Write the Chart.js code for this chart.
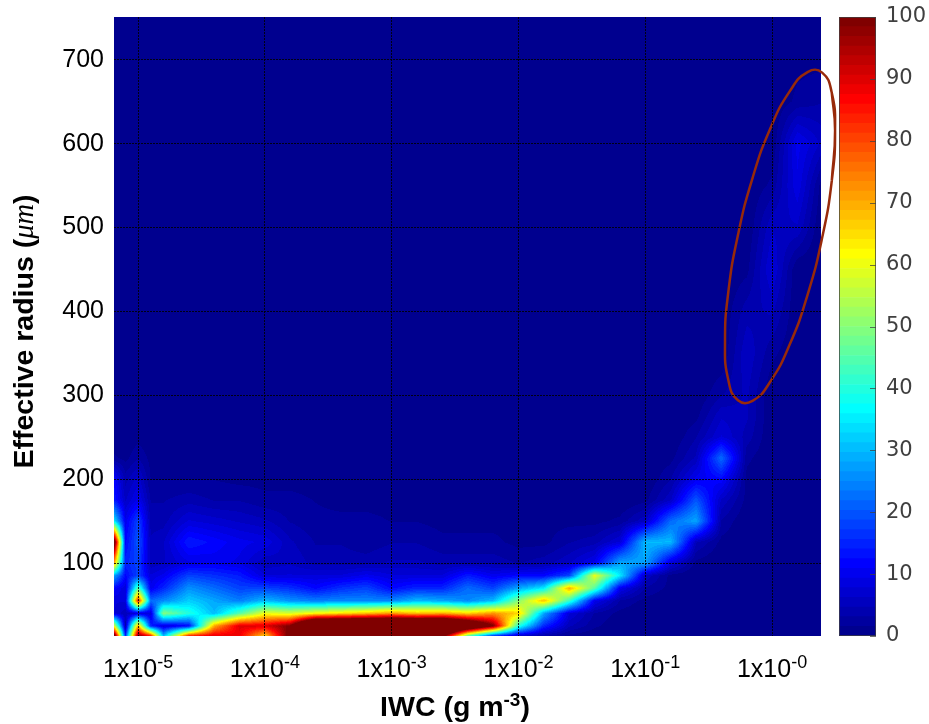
<!DOCTYPE html>
<html>
<head>
<meta charset="utf-8">
<title>IWC vs effective radius</title>
<script src="https://cdn.jsdelivr.net/npm/chart.js@4/dist/chart.umd.min.js"></script>
<style>
  body { margin: 0; background: #fff; }
  canvas { position: absolute; top: 0; }
  #heatChart { left: 0; }
  #barChart { left: 829px; }
</style>
</head>
<body>
<canvas id="heatChart" width="929" height="724"></canvas>
<canvas id="barChart" width="100" height="724"></canvas>
<script>
// x nodes as log10(IWC), one value per column of the rows below
const iwcExp = [-5.19,-5.1,-5,-4.9,-4.8,-4.6,-4.4,-4.2,-4,-3.8,-3.6,-3.4,-3.2,-3,-2.8,-2.6,-2.4,-2.2,-2,-1.8,-1.6,-1.4,-1.2,-1,-0.8,-0.6,-0.4,-0.2,0,0.2,0.386];
const reffLevels = [13,25,40,55,70,85,100,125,150,175,200,225,250,275,300,350,400,450,500,550,600,650,700,751];

// frequency, one row per effective radius (saturated above 100)
const r13  = [110,15,100,85,30,85,90,88,66,105,140,140,140,140,140,105,45,15,6,3,1,0,0,0,0,0,0,0,0,0,0];
const r25  = [60,4,70,15,8,12,70,90,90,100,145,145,145,145,145,145,125,100,40,15,5,2,0,0,0,0,0,0,0,0,0];
const r40  = [8,5,8,8,50,40,30,45,60,58,62,65,68,72,68,70,66,72,66,28,8,3,1,0,0,0,0,0,0,0,0];
const r55  = [8,8,85,22,25,32,28,24,30,26,24,25,25,25,30,28,25,30,50,68,42,10,3,1,0,0,0,0,0,0,0];
const r70  = [12,8,45,10,15,26,22,18,18,16,12,16,18,12,15,15,22,18,28,35,70,45,10,3,1,0,0,0,0,0,0];
const r85  = [28,12,18,8,10,18,16,14,8,8,8,8,10,8,8,8,14,10,12,12,18,60,35,6,1,0,0,0,0,0,0];
const r100 = [72,15,18,5,6,9,10,9,5,6,4,4,4,5,5,4,4,4,3,4,6,10,28,28,8,1,0,0,0,0,0];
const r125 = [110,12,20,5,6,14,12,10,9,5,3,3,2,3,3,2,2,2,1,1,3,4,8,30,30,5,1,0,0,0,0];
const r150 = [35,10,18,4,4,8,7,6,5,3,2,2,2,1.5,1.5,1,1,1,1,1,1,1,2,6,22,28,3,0,0,0,0];
const r175 = [14,6,10,3,3,4,3,3,2,2,1.5,1,1,1,1,1,1,1,1,1,0,0,0,1,6,20,6,1,0,0,0];
const r200 = [12,4,7,1.5,1.5,1.5,1.5,1,1,1,1,1,1,1,1,1,1,1,0,0,0,0,0,0,3,10,12,1,0,0,0];
const r225 = [2,1,3,1,1,1,1,1,1,1,1,0,0,1,0,0,0,0,0,0,0,0,0,0,1,5,22,2,0,0,0];
const r250 = [0,0,1,0,0,0,0,0,0,0,0,0,0,0,0,0,0,0,0,0,0,0,0,0,0,3,8,4,0,0,0];
const r275 = [0,0,0,0,0,0,0,0,0,0,0,0,0,0,0,0,0,0,0,0,0,0,0,0,0,1,6,5,0,0,0];
const r300 = [0,0,0,0,0,0,0,0,0,0,0,0,0,0,0,0,0,0,0,0,0,0,0,0,0,0,3,5,0,0,0];
const r350 = [0,0,0,0,0,0,0,0,0,0,0,0,0,0,0,0,0,0,0,0,0,0,0,0,0,0,0,6,2,0,0];
const r400 = [0,0,0,0,0,0,0,0,0,0,0,0,0,0,0,0,0,0,0,0,0,0,0,0,0,0,0,4,5,0,0];
const r450 = [0,0,0,0,0,0,0,0,0,0,0,0,0,0,0,0,0,0,0,0,0,0,0,0,0,0,0,1,8,0,0];
const r500 = [0,0,0,0,0,0,0,0,0,0,0,0,0,0,0,0,0,0,0,0,0,0,0,0,0,0,0,0,6,6,0];
const r550 = [0,0,0,0,0,0,0,0,0,0,0,0,0,0,0,0,0,0,0,0,0,0,0,0,0,0,0,0,2,9,1];
const r600 = [0,0,0,0,0,0,0,0,0,0,0,0,0,0,0,0,0,0,0,0,0,0,0,0,0,0,0,0,0,10,6];
const r650 = [0,0,0,0,0,0,0,0,0,0,0,0,0,0,0,0,0,0,0,0,0,0,0,0,0,0,0,0,0,2,3];
const r700 = [0,0,0,0,0,0,0,0,0,0,0,0,0,0,0,0,0,0,0,0,0,0,0,0,0,0,0,0,0,1,1];
const r751 = [0,0,0,0,0,0,0,0,0,0,0,0,0,0,0,0,0,0,0,0,0,0,0,0,0,0,0,0,0,0,0];
const rows = [r13,r25,r40,r55,r70,r85,r100,r125,r150,r175,r200,r225,r250,r275,r300,r350,r400,r450,r500,r550,r600,r650,r700,r751];

// hand drawn ellipse, ends overlap so the spline closes smoothly
const ellipseExp  = [0.471,0.497,0.471,0.395,0.280,0.139,-0.013,-0.154,-0.269,-0.345,-0.371,-0.345,-0.269,-0.154,-0.013,0.139,0.280,0.395,0.471,0.497,0.471];
const ellipseReff = [660.6,615.8,555.7,487.7,419.8,360.4,316.5,293.4,294,318.1,363,423,491,559,618.4,662.3,685.3,684.7,660.6,615.8,555.7];

const xTickExps = [-5,-4,-3,-2,-1,0];
const yTicks = [100,200,300,400,500,600,700];
const barTicks = [0,10,20,30,40,50,60,70,80,90,100];
const LEVELS = 64;

function jet(value) {
  const i = Math.max(0, Math.min(LEVELS - 1, Math.floor(value / 100 * LEVELS)));
  const t = (i + 1) / LEVELS;
  const ch = c => Math.round(255 * Math.max(0, Math.min(1, 1.5 - Math.abs(4 * t - c))));
  return [ch(3), ch(2), ch(1)];
}

// for each pixel along an axis: which node segment it falls in and how far along
function segments(nodes, from, to) {
  const out = [];
  for (let p = from; p < to; p++) {
    let k = 0;
    while (k < nodes.length - 2 && (p + 0.5 - nodes[k + 1]) * (nodes[1] - nodes[0]) > 0) k++;
    const f = Math.max(0, Math.min(1, (p + 0.5 - nodes[k]) / (nodes[k + 1] - nodes[k])));
    out.push([k, f]);
  }
  return out;
}

const heatPlugin = {
  id: 'heat',
  beforeDatasetsDraw(chart) {
    const { ctx, chartArea: a, scales } = chart;
    const left = Math.round(a.left), top = Math.round(a.top);
    const w = Math.round(a.right) - left, h = Math.round(a.bottom) - top;
    const xSeg = segments(iwcExp.map(e => scales.x.getPixelForValue(Math.pow(10, e))), left, left + w);
    const ySeg = segments(reffLevels.map(v => scales.y.getPixelForValue(v)), top, top + h);
    const img = ctx.createImageData(w, h);
    ySeg.forEach(([j, fy], py) => {
      xSeg.forEach(([i, fx], px) => {
        const low = rows[j][i] * (1 - fx) + rows[j][i + 1] * fx;
        const high = rows[j + 1][i] * (1 - fx) + rows[j + 1][i + 1] * fx;
        const c = jet(low * (1 - fy) + high * fy);
        const o = (py * w + px) * 4;
        img.data[o] = c[0];
        img.data[o + 1] = c[1];
        img.data[o + 2] = c[2];
        img.data[o + 3] = 255;
      });
    });
    ctx.putImageData(img, left, top);
  }
};

// tick labels and titles with raised exponents and mixed fonts
const textPlugin = {
  id: 'axisText',
  afterDraw(chart) {
    const { ctx, scales } = chart;
    ctx.save();
    ctx.fillStyle = '#000';
    ctx.textBaseline = 'alphabetic';
    ctx.textAlign = 'left';
    xTickExps.forEach(e => {
      const cx = scales.x.getPixelForValue(Math.pow(10, e));
      const base = '1x10', sup = '-' + Math.abs(e);
      ctx.font = '25px "Liberation Sans"';
      const bw = ctx.measureText(base).width;
      ctx.font = '18px "Liberation Sans"';
      const sw = ctx.measureText(sup).width;
      const x0 = cx - (bw + sw) / 2;
      ctx.font = '25px "Liberation Sans"';
      ctx.fillText(base, x0, 677);
      ctx.font = '18px "Liberation Sans"';
      ctx.fillText(sup, x0 + bw, 668);
    });

    const parts = [
      ['IWC (g m', 'bold 28.5px "Liberation Sans"', 0],
      ['-3', 'bold 19px "Liberation Sans"', -10],
      [')', 'bold 28.5px "Liberation Sans"', 0]
    ];
    drawParts(ctx, parts, 455, 716);

    ctx.translate(33, 331.5);
    ctx.rotate(-Math.PI / 2);
    const yParts = [
      ['Effective radius (', 'bold 28.5px "Liberation Sans"', 0],
      ['\u03bcm', 'italic 28.5px "Liberation Serif"', 0],
      [')', 'bold 28.5px "Liberation Sans"', 0]
    ];
    drawParts(ctx, yParts, 0, 0);
    ctx.restore();
  }
};

function drawParts(ctx, parts, cx, y) {
  let total = 0;
  parts.forEach(p => { ctx.font = p[1]; total += ctx.measureText(p[0]).width; });
  let x = cx - total / 2;
  parts.forEach(p => {
    ctx.font = p[1];
    ctx.fillText(p[0], x, y + p[2]);
    x += ctx.measureText(p[0]).width;
  });
}

new Chart(document.getElementById('heatChart'), {
  type: 'scatter',
  data: {
    datasets: [{
      label: 'ellipse',
      data: ellipseExp.map((e, i) => ({ x: Math.pow(10, e), y: ellipseReff[i] })),
      showLine: true,
      tension: 0.5,
      capBezierPoints: false,
      borderColor: '#982a0a',
      borderWidth: 2.5,
      pointRadius: 0,
      clip: false
    }]
  },
  options: {
    responsive: false,
    animation: false,
    layout: { autoPadding: false, padding: { top: 17, right: 108, left: 0, bottom: 0 } },
    plugins: { legend: { display: false }, tooltip: { enabled: false } },
    scales: {
      x: {
        type: 'logarithmic',
        min: Math.pow(10, -5.19),
        max: Math.pow(10, 0.386),
        afterBuildTicks: s => { s.ticks = xTickExps.map(e => ({ value: Math.pow(10, e) })); },
        afterFit: s => { s.height = 88; s.paddingLeft = 0; s.paddingRight = 0; },
        ticks: { display: false },
        border: { display: false, dash: [2, 1] },
        grid: { z: 1, color: 'rgba(0,0,0,0.85)', drawTicks: false }
      },
      y: {
        type: 'linear',
        min: 13,
        max: 751,
        afterBuildTicks: s => { s.ticks = yTicks.map(v => ({ value: v })); },
        afterFit: s => { s.width = 114; s.paddingTop = 0; s.paddingBottom = 0; },
        ticks: { color: '#000', padding: 10, font: { family: '"Liberation Sans"', size: 25 } },
        border: { display: false, dash: [2, 1] },
        grid: { z: 1, color: 'rgba(0,0,0,0.85)', drawTicks: false }
      }
    }
  },
  plugins: [heatPlugin, textPlugin]
});

// colour bar: 64 stacked steps of the same map
const barSteps = [];
for (let i = 0; i < LEVELS; i++) barSteps.push(100 / LEVELS);

const barFrame = {
  id: 'barFrame',
  afterDraw(chart) {
    const { ctx, chartArea: a, scales } = chart;
    ctx.save();
    ctx.strokeStyle = 'rgba(64,64,64,0.75)';
    ctx.lineWidth = 1;
    ctx.strokeRect(a.left + 0.5, a.top + 0.5, a.right - a.left - 1, a.bottom - a.top - 1);
    barTicks.forEach(v => {
      const y = Math.round(scales.y.getPixelForValue(v)) + 0.5;
      ctx.beginPath();
      ctx.moveTo(a.right - 6, y);
      ctx.lineTo(a.right, y);
      ctx.stroke();
    });
    ctx.restore();
  }
};

new Chart(document.getElementById('barChart'), {
  type: 'bar',
  data: {
    labels: ['scale'],
    datasets: barSteps.map((step, i) => {
      const c = jet((i + 0.5) * step);
      return {
        data: [step],
        backgroundColor: `rgb(${c[0]},${c[1]},${c[2]})`,
        barPercentage: 1,
        categoryPercentage: 1
      };
    })
  },
  options: {
    responsive: false,
    animation: false,
    layout: { autoPadding: false, padding: { top: 17, left: 10, right: 0, bottom: 88 } },
    plugins: { legend: { display: false }, tooltip: { enabled: false } },
    scales: {
      x: { stacked: true, display: false },
      y: {
        stacked: true,
        position: 'right',
        min: 0,
        max: 100,
        afterBuildTicks: s => { s.ticks = barTicks.map(v => ({ value: v })); },
        afterFit: s => { s.width = 53; s.paddingTop = 0; s.paddingBottom = 0; },
        ticks: { color: '#404040', padding: 10, font: { family: '"DejaVu Sans"', size: 21 } },
        border: { display: false },
        grid: { display: false, drawTicks: false }
      }
    }
  },
  plugins: [barFrame]
});
</script>
</body>
</html>
